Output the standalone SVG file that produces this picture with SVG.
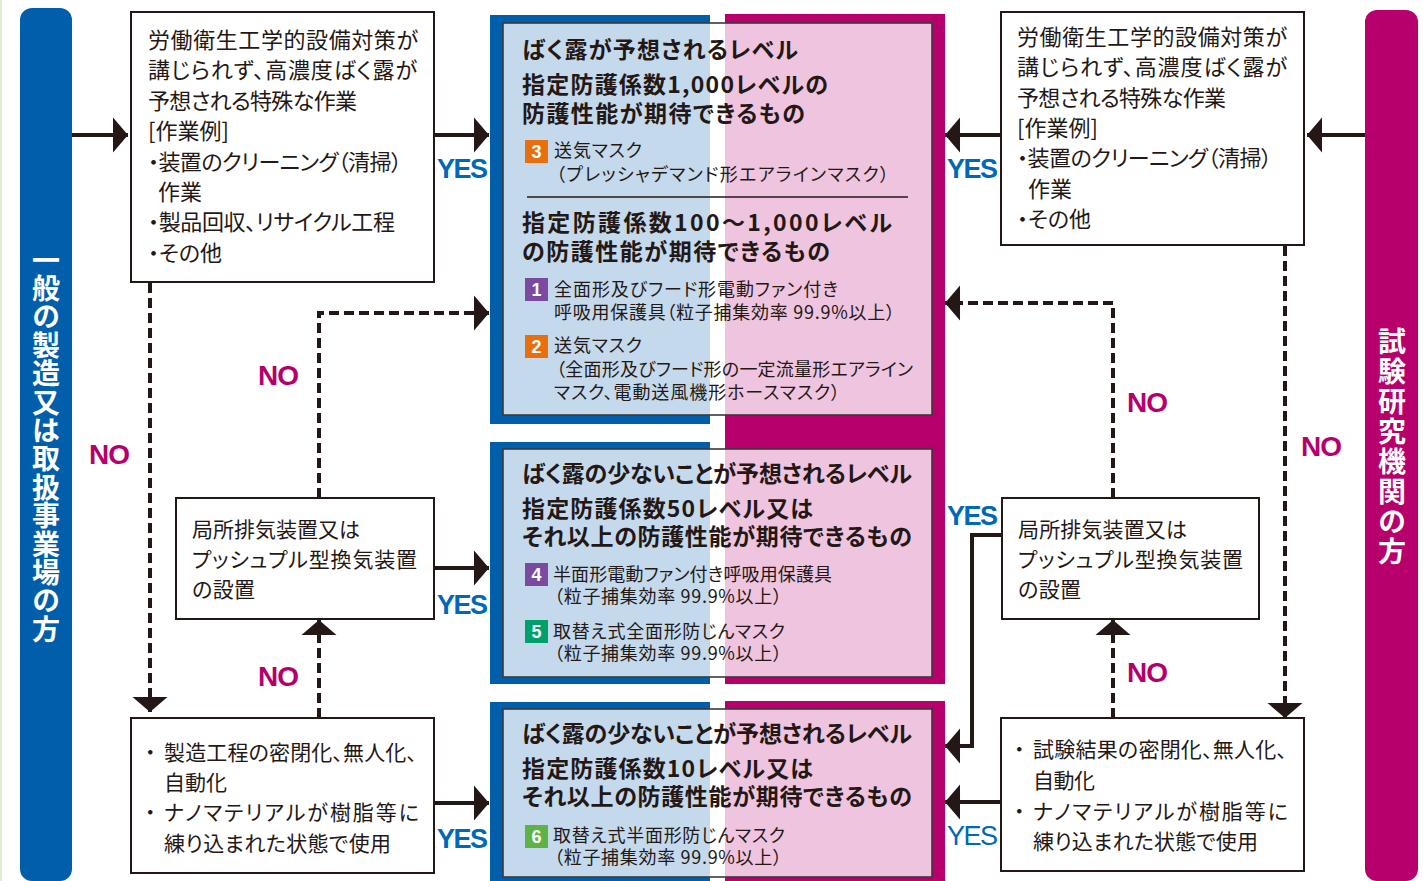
<svg xmlns="http://www.w3.org/2000/svg" width="1423" height="881" viewBox="0 0 1423 881">
<style>
text{font-family:"Noto Sans CJK JP","Noto Sans",sans-serif;fill:#231815;font-feature-settings:"palt";}
.box{fill:#fff;stroke:#231815;stroke-width:2;}
.frame{fill:none;stroke:#3a3a3a;stroke-width:1.6;}
.t{font-size:21px;}
.tt{font-size:22px;}
.h{font-size:23px;font-weight:700;}
.s{font-size:18px;}
.badge-t{font-size:18px;font-weight:700;fill:#fff;font-family:"Liberation Sans",sans-serif;text-anchor:middle;}
.yes{font-family:"Liberation Sans",sans-serif;font-size:27px;font-weight:700;fill:#0068b7;letter-spacing:-1.5px;}
.yesr{font-family:"Liberation Sans",sans-serif;font-size:27px;font-weight:400;fill:#0068b7;letter-spacing:-1.5px;}
.no{font-family:"Liberation Sans",sans-serif;font-size:28px;font-weight:700;fill:#b5006b;letter-spacing:-1px;}
.solid{fill:none;stroke:#231815;stroke-width:4;marker-end:url(#ah);}
.dash{fill:none;stroke:#231815;stroke-width:4;stroke-dasharray:10 5;marker-end:url(#ah);}
.band{font-size:28px;font-weight:700;fill:#fff;writing-mode:vertical-rl;}
</style>
<defs>
<marker id="ah" markerUnits="userSpaceOnUse" markerWidth="16" markerHeight="36" refX="15" refY="18" orient="auto" viewBox="0 0 16 36">
<path d="M0,0.5 L15,18 L0,35.5 z" fill="#231815"/>
</marker>
</defs>

<rect x="0" y="0" width="2" height="881" fill="#dcefcf"/>

<g id="band-left">
<rect x="20" y="8" width="52" height="873" rx="12" fill="#005eaa"/>
<text class="band" x="46" y="246" style="letter-spacing:0.4px">一般の製造又は取扱事業場の方</text>
</g>
<g id="band-right">
<rect x="1365" y="10" width="53" height="871" rx="12" fill="#b7006b"/>
<text class="band" x="1392" y="327" style="letter-spacing:2px">試験研究機関の方</text>
</g>

<g id="block-top">
<rect x="490" y="15" width="220" height="409" fill="#005eaa"/>
<rect x="725" y="14" width="220" height="670" fill="#b7006b"/>
<rect x="503" y="23" width="207" height="392" fill="#c5d9ec"/>
<rect x="710" y="23" width="15" height="392" fill="#fff"/>
<rect x="725" y="23" width="207" height="392" fill="#efc4df"/>
<rect class="frame" x="503" y="23" width="429" height="392"/>
<text class="h" x="522" y="58" textLength="276" lengthAdjust="spacing">ばく露が予想されるレベル</text>
<text class="h" x="522" y="93" textLength="306" lengthAdjust="spacing">指定防護係数1,000レベルの</text>
<text class="h" x="522" y="122" textLength="283" lengthAdjust="spacing">防護性能が期待できるもの</text>
<rect x="525" y="140" width="23" height="23" fill="#e86f0e"/>
<text class="badge-t" x="536.5" y="158">3</text>
<text class="s" x="554" y="157" textLength="88" lengthAdjust="spacing">送気マスク</text>
<text class="s" x="556" y="181" textLength="333" lengthAdjust="spacing">（プレッシャデマンド形エアラインマスク）</text>
<line x1="527" y1="197" x2="908" y2="197" stroke="#231815" stroke-width="1.6"/>
<text class="h" x="522" y="231" textLength="370" lengthAdjust="spacing">指定防護係数100～1,000レベル</text>
<text class="h" x="522" y="260" textLength="308" lengthAdjust="spacing">の防護性能が期待できるもの</text>
<rect x="525" y="278" width="23" height="23" fill="#7b4a9e"/>
<text class="badge-t" x="536.5" y="296">1</text>
<text class="s" x="554" y="296" textLength="284" lengthAdjust="spacing">全面形及びフード形電動ファン付き</text>
<text class="s" x="554" y="319" textLength="341" lengthAdjust="spacing">呼吸用保護具（粒子捕集効率 99.9%以上）</text>
<rect x="525" y="335" width="23" height="23" fill="#e86f0e"/>
<text class="badge-t" x="536.5" y="353">2</text>
<text class="s" x="554" y="352" textLength="88" lengthAdjust="spacing">送気マスク</text>
<text class="s" x="556" y="376" textLength="357" lengthAdjust="spacing">（全面形及びフード形の一定流量形エアライン</text>
<text class="s" x="554" y="399" textLength="286" lengthAdjust="spacing">マスク、電動送風機形ホースマスク）</text>
</g>

<g id="block-mid">
<rect x="490" y="442" width="220" height="242" fill="#005eaa"/>
<rect x="503" y="449" width="207" height="228" fill="#c5d9ec"/>
<rect x="710" y="449" width="15" height="228" fill="#fff"/>
<rect x="725" y="449" width="207" height="228" fill="#efc4df"/>
<rect class="frame" x="503" y="449" width="429" height="228"/>
<text class="h" x="522" y="482" textLength="390" lengthAdjust="spacing">ばく露の少ないことが予想されるレベル</text>
<text class="h" x="522" y="517" textLength="291" lengthAdjust="spacing">指定防護係数50レベル又は</text>
<text class="h" x="522" y="545" textLength="390" lengthAdjust="spacing">それ以上の防護性能が期待できるもの</text>
<rect x="525" y="563" width="23" height="23" fill="#7b4a9e"/>
<text class="badge-t" x="536.5" y="581">4</text>
<text class="s" x="553" y="581" textLength="279" lengthAdjust="spacing">半面形電動ファン付き呼吸用保護具</text>
<text class="s" x="554" y="603" textLength="228" lengthAdjust="spacing">（粒子捕集効率 99.9%以上）</text>
<rect x="525" y="620" width="23" height="23" fill="#00a06b"/>
<text class="badge-t" x="536.5" y="638">5</text>
<text class="s" x="553" y="638" textLength="232" lengthAdjust="spacing">取替え式全面形防じんマスク</text>
<text class="s" x="554" y="660" textLength="228" lengthAdjust="spacing">（粒子捕集効率 99.9%以上）</text>
</g>

<g id="block-bottom">
<rect x="490" y="702" width="220" height="179" fill="#005eaa"/>
<rect x="725" y="701" width="220" height="180" fill="#b7006b"/>
<rect x="503" y="709" width="207" height="168" fill="#c5d9ec"/>
<rect x="710" y="709" width="15" height="168" fill="#fff"/>
<rect x="725" y="709" width="207" height="168" fill="#efc4df"/>
<rect class="frame" x="503" y="709" width="429" height="168"/>
<text class="h" x="522" y="742" textLength="390" lengthAdjust="spacing">ばく露の少ないことが予想されるレベル</text>
<text class="h" x="522" y="777" textLength="291" lengthAdjust="spacing">指定防護係数10レベル又は</text>
<text class="h" x="522" y="805" textLength="390" lengthAdjust="spacing">それ以上の防護性能が期待できるもの</text>
<rect x="525" y="825" width="23" height="23" fill="#5db344"/>
<text class="badge-t" x="536.5" y="843">6</text>
<text class="s" x="553" y="842" textLength="232" lengthAdjust="spacing">取替え式半面形防じんマスク</text>
<text class="s" x="554" y="864" textLength="228" lengthAdjust="spacing">（粒子捕集効率 99.9%以上）</text>
</g>

<g id="box-left-top">
<rect class="box" x="131" y="12" width="303" height="270"/>
<text class="tt" x="148" y="48" textLength="270" lengthAdjust="spacing">労働衛生工学的設備対策が</text>
<text class="tt" x="148" y="78" textLength="269" lengthAdjust="spacing">講じられず、高濃度ばく露が</text>
<text class="tt" x="148" y="109" textLength="209" lengthAdjust="spacing">予想される特殊な作業</text>
<text class="tt" x="148" y="139">[作業例]</text>
<text class="tt" x="148" y="170" textLength="254" lengthAdjust="spacing">・装置のクリーニング（清掃）</text>
<text class="tt" x="158" y="200">作業</text>
<text class="tt" x="148" y="230" textLength="247" lengthAdjust="spacing">・製品回収、リサイクル工程</text>
<text class="tt" x="148" y="261">・その他</text>
</g>

<g id="box-left-mid">
<rect class="box" x="176" y="498" width="258" height="121"/>
<text class="t" x="192" y="537" textLength="168" lengthAdjust="spacing">局所排気装置又は</text>
<text class="t" x="192" y="567" textLength="225" lengthAdjust="spacing">プッシュプル型換気装置</text>
<text class="t" x="192" y="597" textLength="63" lengthAdjust="spacing">の設置</text>
</g>

<g id="box-left-bottom">
<rect class="box" x="131" y="718" width="303" height="155"/>
<text class="t" x="145" y="760">・</text>
<text class="t" x="164" y="760" textLength="253" lengthAdjust="spacing">製造工程の密閉化、無人化、</text>
<text class="t" x="164" y="790" textLength="63" lengthAdjust="spacing">自動化</text>
<text class="t" x="145" y="820">・</text>
<text class="t" x="164" y="820" textLength="255" lengthAdjust="spacing">ナノマテリアルが樹脂等に</text>
<text class="t" x="164" y="851" textLength="227" lengthAdjust="spacing">練り込まれた状態で使用</text>
</g>

<g id="box-right-top">
<rect class="box" x="1001" y="12" width="303" height="233"/>
<text class="tt" x="1017" y="45" textLength="270" lengthAdjust="spacing">労働衛生工学的設備対策が</text>
<text class="tt" x="1017" y="75" textLength="270" lengthAdjust="spacing">講じられず、高濃度ばく露が</text>
<text class="tt" x="1017" y="106" textLength="209" lengthAdjust="spacing">予想される特殊な作業</text>
<text class="tt" x="1017" y="136">[作業例]</text>
<text class="tt" x="1017" y="166" textLength="255" lengthAdjust="spacing">・装置のクリーニング（清掃）</text>
<text class="tt" x="1028" y="197">作業</text>
<text class="tt" x="1017" y="227">・その他</text>
</g>

<g id="box-right-mid">
<rect class="box" x="1002" y="498" width="257" height="121"/>
<text class="t" x="1018" y="537" textLength="169" lengthAdjust="spacing">局所排気装置又は</text>
<text class="t" x="1018" y="567" textLength="225" lengthAdjust="spacing">プッシュプル型換気装置</text>
<text class="t" x="1018" y="597" textLength="63" lengthAdjust="spacing">の設置</text>
</g>

<g id="box-right-bottom">
<rect class="box" x="1001" y="718" width="303" height="153"/>
<text class="t" x="1014" y="757">・</text>
<text class="t" x="1033" y="757" textLength="254" lengthAdjust="spacing">試験結果の密閉化、無人化、</text>
<text class="t" x="1033" y="788" textLength="62" lengthAdjust="spacing">自動化</text>
<text class="t" x="1014" y="819">・</text>
<text class="t" x="1033" y="819" textLength="255" lengthAdjust="spacing">ナノマテリアルが樹脂等に</text>
<text class="t" x="1033" y="849" textLength="225" lengthAdjust="spacing">練り込まれた状態で使用</text>
</g>

<g id="connectors">
<path class="solid" d="M72,135 H128"/>
<path class="solid" d="M434,135 H489"/>
<path class="dash" d="M150,283 V712"/>
<path class="dash" d="M319,498 V313 H489"/>
<path class="solid" d="M434,568 H489"/>
<path class="dash" d="M319,718 V620"/>
<path class="solid" d="M434,803 H489"/>
<path class="solid" d="M1365,135 H1307"/>
<path class="solid" d="M1001,135 H945"/>
<path class="dash" d="M1285,246 V718"/>
<path class="dash" d="M1113,498 V303 H945"/>
<path class="solid" d="M1002,535 H972 V746 H945"/>
<path class="dash" d="M1113,718 V620"/>
<path class="solid" d="M1001,802 H945"/>
</g>

<g id="labels">
<text class="yes" x="437" y="178">YES</text>
<text class="yes" x="437" y="614">YES</text>
<text class="yes" x="437" y="848">YES</text>
<text class="yes" x="947" y="178">YES</text>
<text class="yes" x="947" y="525">YES</text>
<text class="yesr" x="947" y="845">YES</text>
<text class="no" x="89" y="464">NO</text>
<text class="no" x="258" y="385">NO</text>
<text class="no" x="258" y="686">NO</text>
<text class="no" x="1127" y="412">NO</text>
<text class="no" x="1301" y="456">NO</text>
<text class="no" x="1127" y="682">NO</text>
</g>
</svg>
